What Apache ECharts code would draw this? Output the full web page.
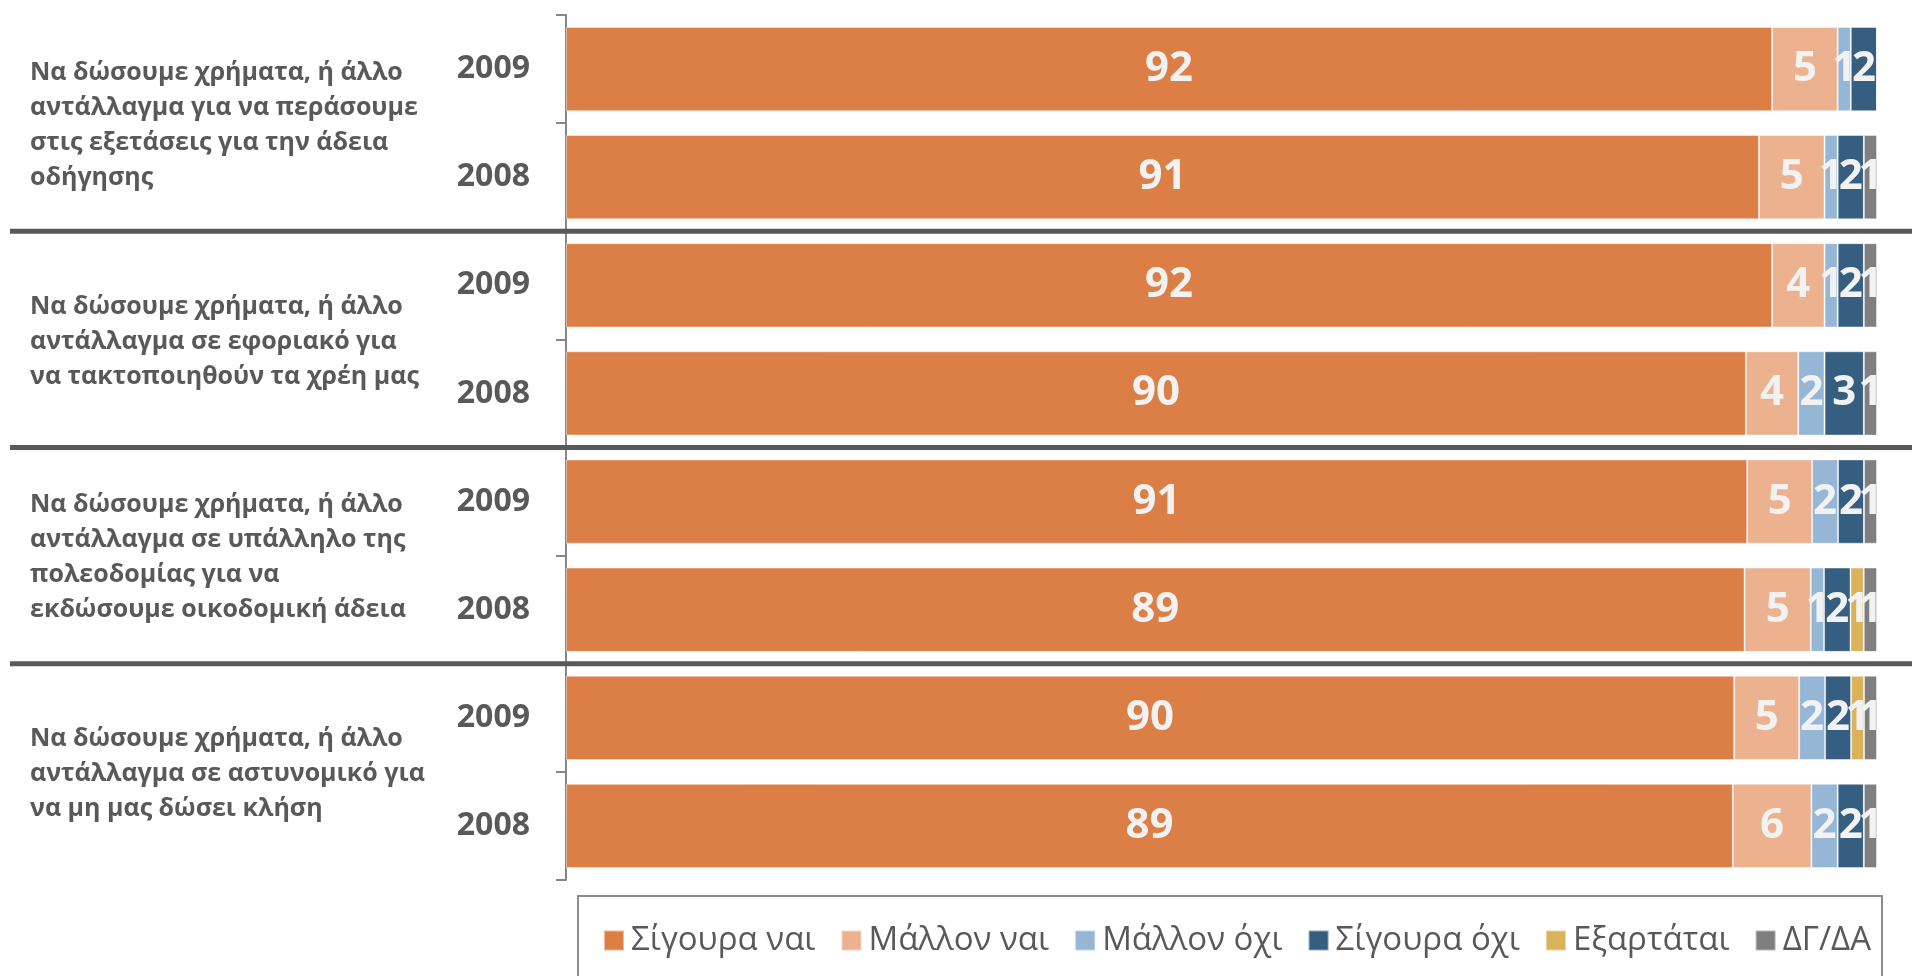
<!DOCTYPE html>
<html>
<head>
<meta charset="utf-8">
<script src="https://cdn.jsdelivr.net/npm/echarts@6/dist/echarts.min.js"></script>
<style>
  html, body { margin: 0; padding: 0; background: #ffffff; }
  #chart { width: 1912px; height: 976px; }
</style>
</head>
<body>
<div id="chart"></div>
<script>
// ερωτήσεις (μία ομάδα ανά ερώτηση, δύο έτη η καθεμία)
const questions = [
  'Να δώσουμε χρήματα, ή άλλο\nαντάλλαγμα για να περάσουμε\nστις εξετάσεις για την άδεια\nοδήγησης',
  'Να δώσουμε χρήματα, ή άλλο\nαντάλλαγμα σε εφοριακό για\nνα τακτοποιηθούν τα χρέη μας',
  'Να δώσουμε χρήματα, ή άλλο\nαντάλλαγμα σε υπάλληλο της\nπολεοδομίας για να\nεκδώσουμε οικοδομική άδεια',
  'Να δώσουμε χρήματα, ή άλλο\nαντάλλαγμα σε αστυνομικό για\nνα μη μας δώσει κλήση'
];
const years = ['2009', '2008'];

const answerNames = ['Σίγουρα ναι', 'Μάλλον ναι', 'Μάλλον όχι', 'Σίγουρα όχι', 'Εξαρτάται', 'ΔΓ/ΔΑ'];
const answerColors = ['#dc7f47', '#ecb290', '#95b6d4', '#355e80', '#d9b25a', '#7f7f7f'];

// τιμές (%) ανά γραμμή, από πάνω προς τα κάτω
const sigouraNai = [92, 91, 92, 90, 91, 89, 90, 89];
const mallonNai  = [5, 5, 4, 4, 5, 5, 5, 6];
const mallonOxi  = [1, 1, 1, 2, 2, 1, 2, 2];
const sigouraOxi = [2, 2, 2, 3, 2, 2, 2, 2];
const eksartatai = [0, 0, 0, 0, 0, 1, 1, 0];
const dgda       = [0, 1, 1, 1, 1, 1, 1, 1];

const answerValues = [sigouraNai, mallonNai, mallonOxi, sigouraOxi, eksartatai, dgda];

const categories = [];
questions.forEach((q, gi) => {
  years.forEach(y => categories.push(gi + '-' + y));
});

// 100% stacked: κάθε γραμμή κανονικοποιείται στο άθροισμά της
const rowSums = categories.map((c, i) => answerValues.reduce((s, arr) => s + arr[i], 0));

const textColor = '#595959';
const font = '"Open Sans", "Noto Sans", sans-serif';

let chart = echarts.init(document.getElementById('chart'));

chart.setOption({
  animation: false,
  textStyle: { fontFamily: font },
  grid: {
    left: 566,
    right: 35,
    top: 15,
    bottom: 96
  },
  legend: {
    data: answerNames,
    left: 598,
    top: 919,
    itemWidth: 20,
    itemHeight: 20,
    itemGap: 25,
    icon: 'rect',
    textStyle: {
      color: textColor,
      fontSize: 33,
      fontFamily: font,
      padding: [0, 0, 0, 2]
    }
  },
  xAxis: {
    type: 'value',
    min: 0,
    max: 100,
    show: false
  },
  yAxis: {
    type: 'category',
    inverse: true,
    data: categories,
    axisLine: { show: true, lineStyle: { color: '#868686', width: 2 } },
    axisTick: { show: true, length: 10, lineStyle: { color: '#868686', width: 2 } },
    axisLabel: {
      margin: 36,
      color: textColor,
      fontSize: 32,
      fontWeight: 'bold',
      fontFamily: font,
      formatter: v => v.split('-')[1]
    }
  },
  series: answerNames.map((name, si) => ({
    name: name,
    type: 'bar',
    stack: 'total',
    barCategoryGap: '22%',
    itemStyle: {
      color: answerColors[si],
      borderColor: 'rgba(255,255,255,0.45)',
      borderWidth: 1
    },
    label: {
      show: true,
      position: 'inside',
      color: '#f2f2f2',
      fontSize: 42,
      fontWeight: 'bold',
      fontFamily: font,
      formatter: p => (answerValues[si][p.dataIndex] ? String(answerValues[si][p.dataIndex]) : '')
    },
    data: answerValues[si].map((v, i) => v / rowSums[i] * 100)
  }))
});

// γραμμές ομάδων και κείμενα ερωτήσεων
function drawGroups () {
  const centerY = i => chart.convertToPixel({ yAxisIndex: 0 }, categories[i]);
  const boundary = i => (centerY(i) + centerY(i + 1)) / 2;
  const elements = [];
  questions.forEach((q, gi) => {
    elements.push({
      type: 'text',
      style: {
        text: q,
        x: 30,
        y: boundary(gi * 2) + 2,
        verticalAlign: 'middle',
        fill: textColor,
        fontSize: 25,
        fontWeight: 'bold',
        fontFamily: font,
        lineHeight: 35
      }
    });
    if (gi < questions.length - 1) {
      const y = boundary(gi * 2 + 1);
      elements.push({
        type: 'line',
        shape: { x1: 10, y1: y, x2: 1912, y2: y },
        style: { stroke: '#595959', lineWidth: 5 },
        z: 10
      });
    }
  });
  // πλαίσιο υπομνήματος
  elements.push({
    type: 'rect',
    shape: { x: 578, y: 896, width: 1304, height: 90 },
    style: { fill: 'none', stroke: '#8c8c8c', lineWidth: 2 }
  });
  chart.setOption({ graphic: elements });
}
drawGroups();
</script>
</body>
</html>
